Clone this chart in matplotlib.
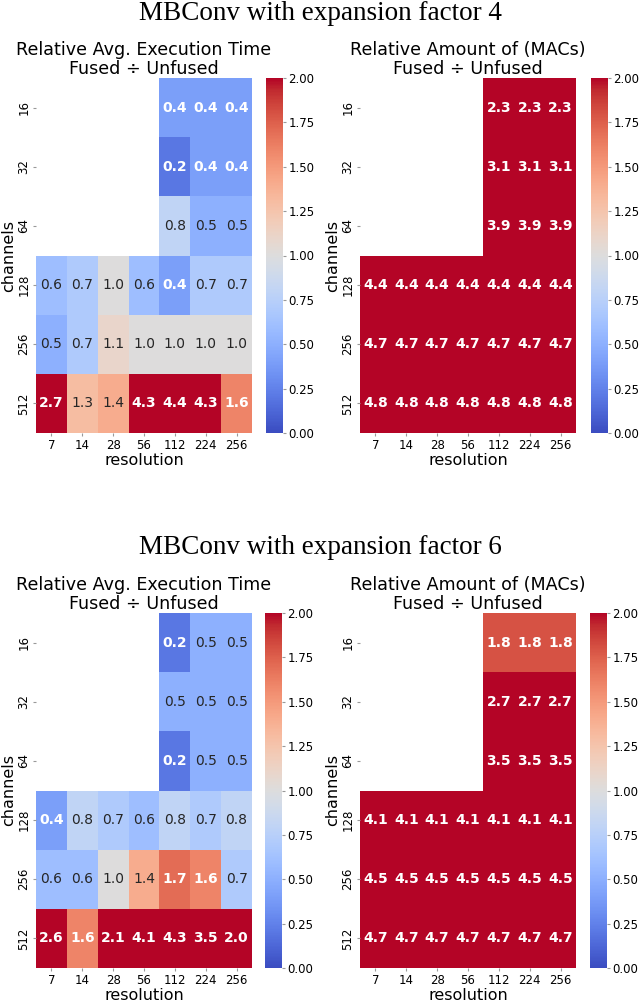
import numpy as np
import matplotlib
matplotlib.use("Agg")
import matplotlib.pyplot as plt
import seaborn as sns

nan = np.nan
resolution = [7, 14, 28, 56, 112, 224, 256]
channels = [16, 32, 64, 128, 256, 512]

# MBConv expansion factor 4
time_ef4 = np.array([
    [nan, nan, nan, nan, 0.4, 0.4, 0.4],
    [nan, nan, nan, nan, 0.2, 0.4, 0.4],
    [nan, nan, nan, nan, 0.8, 0.5, 0.5],
    [0.6, 0.7, 1.0, 0.6, 0.4, 0.7, 0.7],
    [0.5, 0.7, 1.1, 1.0, 1.0, 1.0, 1.0],
    [2.7, 1.3, 1.4, 4.3, 4.4, 4.3, 1.6],
])
macs_ef4 = np.array([
    [nan, nan, nan, nan, 2.3, 2.3, 2.3],
    [nan, nan, nan, nan, 3.1, 3.1, 3.1],
    [nan, nan, nan, nan, 3.9, 3.9, 3.9],
    [4.4, 4.4, 4.4, 4.4, 4.4, 4.4, 4.4],
    [4.7, 4.7, 4.7, 4.7, 4.7, 4.7, 4.7],
    [4.8, 4.8, 4.8, 4.8, 4.8, 4.8, 4.8],
])

# MBConv expansion factor 6
time_ef6 = np.array([
    [nan, nan, nan, nan, 0.2, 0.5, 0.5],
    [nan, nan, nan, nan, 0.5, 0.5, 0.5],
    [nan, nan, nan, nan, 0.2, 0.5, 0.5],
    [0.4, 0.8, 0.7, 0.6, 0.8, 0.7, 0.8],
    [0.6, 0.6, 1.0, 1.4, 1.7, 1.6, 0.7],
    [2.6, 1.6, 2.1, 4.1, 4.3, 3.5, 2.0],
])
macs_ef6 = np.array([
    [nan, nan, nan, nan, 1.8, 1.8, 1.8],
    [nan, nan, nan, nan, 2.7, 2.7, 2.7],
    [nan, nan, nan, nan, 3.5, 3.5, 3.5],
    [4.1, 4.1, 4.1, 4.1, 4.1, 4.1, 4.1],
    [4.5, 4.5, 4.5, 4.5, 4.5, 4.5, 4.5],
    [4.7, 4.7, 4.7, 4.7, 4.7, 4.7, 4.7],
])

W, H = 640, 1000
fig = plt.figure(figsize=(W / 100, H / 100), dpi=100)


def px(x0, y_top, w, h):
    return [x0 / W, 1 - (y_top + h) / H, w / W, h / H]


def draw(data, title, hx, cx, y_top):
    ax = fig.add_axes(px(hx, y_top, 216, 355))
    cax = fig.add_axes(px(cx, y_top, 17, 355))
    sns.heatmap(data, ax=ax, cbar_ax=cax, cmap="coolwarm", vmin=0, vmax=2,
                xticklabels=resolution, yticklabels=channels,
                cbar_kws={"ticks": np.arange(0, 2.01, 0.25), "format": "%.2f"})
    for i in range(data.shape[0]):
        for j in range(data.shape[1]):
            v = data[i, j]
            if np.isnan(v):
                continue
            strong = v <= 0.4 or v >= 1.5
            ax.text(j + 0.5, i + 0.5, f"{v:.1f}", ha="center", va="center",
                    fontsize=10, color="white" if strong else "#262626",
                    fontweight="bold" if strong else "normal")
    ax.set_title(title + "\nFused \u00f7 Unfused", fontsize=12.6, pad=3, linespacing=1.05)
    ax.set_xlabel("resolution", fontsize=11.5, labelpad=1)
    ax.set_ylabel("channels", fontsize=11.5, labelpad=1)
    ax.tick_params(axis="both", labelsize=8.5, length=2, color="#999999", pad=2)
    plt.setp(ax.get_yticklabels(), rotation=90, va="center")
    plt.setp(ax.get_xticklabels(), rotation=0)
    cax.tick_params(labelsize=8.5, length=2, color="#999999", pad=2)


draw(time_ef4, "Relative Avg. Execution Time", 36, 266, 78)
draw(macs_ef4, "Relative Amount of (MACs)", 360, 591, 78)
draw(time_ef6, "Relative Avg. Execution Time", 36, 265, 613)
draw(macs_ef6, "Relative Amount of (MACs)", 360, 590, 613)

fig.text(0.5, 1 - 14 / H, "MBConv with expansion factor 4", ha="center", va="center",
         fontsize=19.5, family="Liberation Serif")
fig.text(0.5, 1 - 548 / H, "MBConv with expansion factor 6", ha="center", va="center",
         fontsize=19.5, family="Liberation Serif")

fig.savefig("out.png", dpi=100)
